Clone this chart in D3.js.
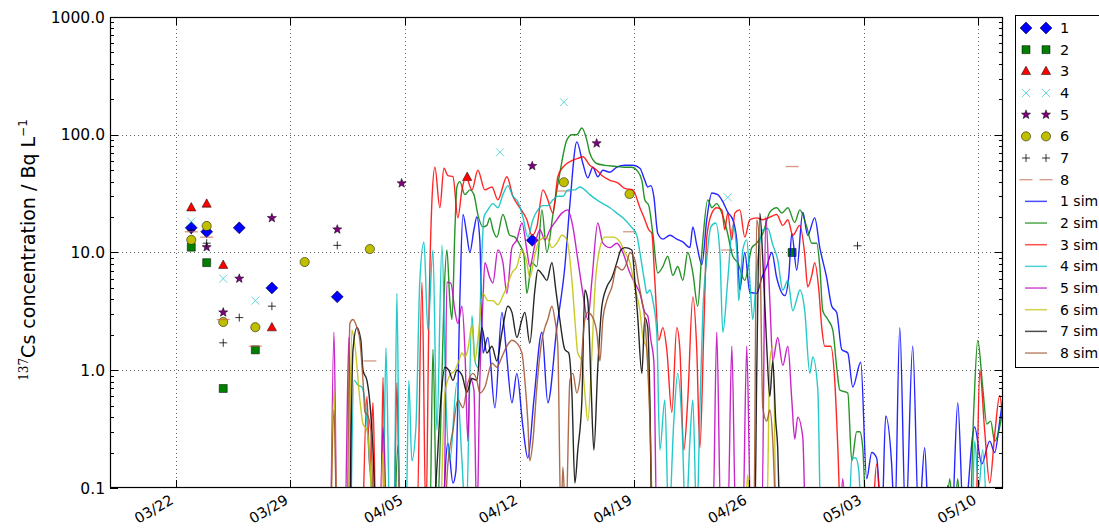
<!DOCTYPE html>
<html><head><meta charset="utf-8">
<script src="https://cdn.jsdelivr.net/npm/d3@7"></script>
<style>
html,body{margin:0;padding:0;background:#fff;}
svg{display:block;font-family:"DejaVu Sans",sans-serif;}
</style></head><body>
<svg id="chart" width="1099" height="530"></svg>
<script>
// Time is in days after 2011-03-18 00:00 UTC; values in Bq/L.
// B marks hours where the simulated concentration falls below the plotted range.
const B = 0.05;

// Observed 137Cs concentrations at stations 1-8
const obs1 = [[4.96,16.2],[5.90,15.0],[7.89,16.2],[9.88,5.0],[13.87,4.2],[25.77,12.7]];
const obs2 = [[4.96,11.1],[5.90,8.2],[6.91,0.70],[8.87,1.49],[41.63,10.0]];
const obs3 = [[4.96,24.0],[5.90,25.8],[6.91,7.8],[9.88,2.3],[21.80,43.5]];
const obs4 = [[4.96,18.3],[6.91,6.0],[8.87,3.9],[23.80,71],[27.70,189],[37.70,29.4]];
const obs5 = [[5.90,11.1],[6.91,3.1],[7.89,6.0],[9.88,19.6],[13.87,15.7],[17.80,38.7],[25.77,54.3],[29.70,84.6]];
const obs6 = [[4.96,12.8],[5.90,16.8],[6.91,2.57],[8.87,2.32],[11.88,8.3],[15.86,10.7],[27.70,39.5],[31.71,31.4]];
const obs7 = [[4.96,15.5],[5.90,12.0],[6.91,1.71],[7.89,2.8],[9.88,3.5],[13.87,11.5],[45.62,11.4]];
const obs8 = [[4.96,15.0],[5.90,13.5],[6.91,2.7],[8.87,1.6],[15.86,1.2],[27.70,33.3],[31.71,15.0],[37.70,10.5],[41.63,53.7]];

// Simulated concentrations at stations 1-8
const sim1 = [[20.32,B],[20.62,0.24],[20.93,0.11],[21.11,0.14],[21.35,3.9],[21.54,21],[21.78,14],[21.96,10],[22.21,15.6],[22.39,20],[22.57,12.8],[22.76,1.4],[23.06,1.9],[23.49,0.48],[23.92,3.1],[24.16,1.6],[24.53,0.53],[24.83,0.94],[25.20,0.33],[25.50,0.18],[25.87,0.56],[26.36,2.1],[26.72,0.53],[27.27,2.3],[27.76,7.6],[28.07,26],[28.49,87],[28.86,57],[29.16,43],[29.47,53],[29.77,44],[30.08,50],[30.51,48],[30.93,53],[31.42,55],[31.91,55],[32.34,52],[32.64,41],[32.82,36],[33.01,37],[33.19,30],[33.43,14.5],[33.74,13],[34.17,14],[34.59,13],[34.96,12.3],[35.39,11],[35.57,16.5],[35.81,11.6],[36.12,7.9],[36.42,19],[36.73,32],[37.09,31],[37.40,27],[37.70,22],[38.01,19],[38.25,12.8],[38.44,4.8],[38.74,10],[39.05,4.6],[39.47,4.5],[39.78,6.1],[40.08,7.6],[40.39,10],[40.69,6.1],[41.18,4.3],[41.43,6.4],[41.61,14.5],[41.91,7.1],[42.28,22],[42.58,14],[43.01,19.7],[43.32,11],[43.74,6.1],[44.05,3.5],[44.35,3.1],[44.66,1.5],[45.03,1.4],[45.33,0.72],[45.82,1.17],[46.18,0.12],[46.49,0.2],[46.79,0.18],[47.10,B],[47.34,0.41],[47.71,0.155],[47.89,B],[48.20,2.3],[48.56,B],[48.99,1.6],[49.36,B],[49.72,0.22],[49.97,B],[50.94,B],[51.13,0.105],[51.37,B],[51.74,0.53],[52.10,B],[52.77,0.33],[53.20,0.16],[53.69,0.25],[53.99,0.2],[54.30,0.37],[54.48,0.56]];
const sim2 = [[17.39,B],[17.57,0.23],[17.75,B],[19.52,B],[19.71,1.5],[19.95,B],[20.19,0.37],[20.38,3.9],[20.56,10.5],[20.74,3.9],[20.87,2.7],[21.05,15.6],[21.17,36],[21.35,40],[21.66,31],[21.96,34],[22.21,31],[22.45,21],[22.76,16.5],[23.0,17],[23.18,19.7],[23.37,15.6],[23.61,13.5],[23.98,21],[24.40,14],[24.71,13.5],[25.01,11.6],[25.26,9.6],[25.44,4.5],[25.75,8.2],[26.05,7.6],[26.36,23],[26.66,10],[27.03,21],[27.45,47],[27.88,90],[28.19,100],[28.49,100],[28.80,114],[29.10,90],[29.28,70],[29.71,57],[30.20,55],[30.81,54],[31.42,53],[31.85,53],[32.15,50],[32.46,41],[32.64,28],[32.88,25],[33.13,14.5],[33.43,6.7],[33.74,7.6],[34.04,9.3],[34.35,6.4],[34.65,7.6],[34.96,5.8],[35.26,10],[35.57,6.7],[35.87,3.5],[36.12,10],[36.48,28],[36.73,24],[37.03,26],[37.34,21.6],[37.64,15.6],[38.01,9.3],[38.31,8.2],[38.74,5.8],[39.17,11],[39.47,12],[39.84,14.5],[40.27,22],[40.69,24],[41.0,21.6],[41.37,24],[41.79,18],[42.10,23],[42.52,16.5],[42.83,12],[43.13,12],[43.32,7.6],[43.50,3.2],[43.81,2.7],[44.11,2.2],[44.35,1.06],[44.54,0.68],[45.03,0.64],[45.27,0.17],[45.57,0.3],[45.76,0.3],[45.94,0.22],[46.18,B],[51.0,B],[51.25,0.12],[51.49,B],[51.74,0.12],[51.92,B],[52.47,B],[52.71,0.44],[52.96,1.8],[53.26,0.72],[53.51,0.35],[53.75,0.37],[53.99,0.25],[54.30,0.33],[54.48,0.46]];
const sim3 = [[15.44,B],[15.68,0.6],[15.86,0.14],[16.05,0.53],[16.23,B],[16.53,B],[16.66,0.87],[16.84,B],[17.33,B],[17.51,0.78],[17.69,B],[18.73,B],[19.04,5.6],[19.28,B],[19.46,2.7],[19.65,28],[19.83,53],[20.13,24],[20.38,52],[20.62,45],[20.93,44],[21.23,19.7],[21.48,34],[21.72,44],[22.09,34],[22.45,50],[22.88,34],[23.31,36],[23.67,28],[24.22,44],[24.59,30],[25.01,24],[25.44,19],[25.75,14],[26.05,16.5],[26.42,34],[26.72,28],[27.03,21.6],[27.33,44],[27.64,53],[27.88,57],[28.25,61],[28.55,63],[28.86,65],[29.28,55],[29.71,50],[30.02,45],[30.51,41],[30.99,39],[31.42,35],[31.91,34],[32.34,24],[32.64,19],[32.88,15.6],[33.07,14.5],[33.25,5.8],[33.49,1.8],[33.74,2.3],[33.98,1.5],[34.29,0.44],[34.59,2.3],[34.78,1.5],[35.02,0.21],[35.26,0.56],[35.57,4.2],[35.81,1.5],[36.0,0.22],[36.24,2.2],[36.42,13.5],[36.73,21.6],[37.03,24],[37.34,23],[37.52,15.6],[37.70,21.6],[37.95,12.8],[38.13,21.6],[38.44,23],[38.74,13.5],[39.05,19],[39.47,19.7],[39.84,19],[40.27,20],[40.69,21],[41.06,17],[41.37,19],[41.67,14],[42.10,17],[42.40,9.6],[42.58,5.1],[42.83,6.4],[43.01,8.2],[43.26,4.8],[43.44,2.3],[43.62,1.6],[43.99,1.6],[44.23,0.82],[44.42,0.22],[44.60,B],[46.49,B],[46.79,0.16],[47.10,B],[52.83,B],[53.08,1.0],[53.38,0.31],[53.69,0.11],[53.99,0.28],[54.30,0.61],[54.48,0.37]];
const sim4 = [[14.70,B],[14.89,0.82],[15.13,0.75],[15.37,0.72],[15.62,0.46],[15.86,0.15],[16.17,B],[16.66,B],[16.84,1.55],[17.08,B],[17.33,B],[17.51,4.5],[17.69,B],[18.06,B],[18.24,0.82],[18.42,0.17],[18.67,0.33],[18.91,5.8],[19.16,12.3],[19.40,2.2],[19.71,10.5],[19.95,0.31],[20.26,11.6],[20.50,0.56],[20.74,0.17],[21.17,0.78],[21.48,0.17],[21.72,B],[22.09,2.9],[22.27,1.2],[22.45,1.06],[22.70,10],[22.82,20],[23.06,23],[23.37,26],[23.67,24],[23.98,31],[24.28,37],[24.59,30],[24.89,27],[25.20,20],[25.50,13.5],[25.81,19],[26.11,23],[26.42,25],[26.72,25],[27.03,28],[27.33,30],[27.64,30],[27.94,34],[28.37,34],[28.67,36],[28.98,34],[29.28,31],[29.71,28],[30.08,26],[30.51,24],[30.93,21.6],[31.30,19.7],[31.73,17],[32.15,14],[32.34,10],[32.64,5.5],[32.76,4.5],[32.95,4.8],[33.13,3.9],[33.37,2.1],[33.56,0.21],[33.86,0.56],[34.10,B],[34.41,0.37],[34.65,0.94],[34.90,0.37],[35.14,B],[35.39,0.25],[35.57,0.56],[35.81,B],[36.0,0.46],[36.18,3.1],[36.42,8.7],[36.67,16.5],[36.97,17.8],[37.22,10],[37.40,2.1],[37.70,5.8],[38.01,17],[38.25,10.5],[38.37,3.9],[38.62,10.5],[38.86,12.8],[39.05,5.8],[39.23,2.7],[39.47,7.1],[39.84,15.6],[40.15,16],[40.45,11.6],[40.75,8.7],[41.06,4.8],[41.37,5.8],[41.67,3.2],[41.91,4.0],[42.10,4.8],[42.40,3.2],[42.71,0.94],[42.89,1.3],[43.20,0.68],[43.38,B],[45.09,B],[45.27,0.18],[45.51,0.18],[45.70,0.14],[45.88,B],[52.59,B],[52.77,0.25],[53.02,0.1],[53.26,0.21],[53.51,B]];
const sim5 = [[13.48,B],[13.67,2.1],[13.85,B],[14.34,B],[14.58,1.9],[14.76,B],[16.47,B],[16.66,0.33],[16.90,B],[20.38,B],[20.56,5.6],[20.80,5.5],[21.05,3.2],[21.23,2.5],[21.48,3.5],[21.66,1.5],[21.84,0.25],[21.96,0.87],[22.21,0.68],[22.39,B],[22.57,0.82],[22.76,3.9],[22.88,8.2],[23.18,6.1],[23.37,5.5],[23.67,10.5],[23.98,8.2],[24.22,4.5],[24.53,11],[24.83,12.8],[25.14,17.8],[25.44,10.5],[25.62,7.6],[25.93,11.6],[26.24,15.6],[26.54,12.8],[26.85,15.6],[27.15,18],[27.58,21.6],[27.94,23],[28.25,16.5],[28.55,8.7],[28.86,4.5],[29.16,2.7],[29.41,5.8],[29.77,17.8],[30.08,12],[30.51,11],[30.93,12],[31.30,10],[31.73,6.7],[32.03,5.5],[32.34,4.5],[32.64,3.1],[32.82,2.9],[33.01,1.8],[33.19,1.2],[33.37,B],[36.79,B],[37.03,2.1],[37.28,B],[37.70,B],[37.95,1.6],[38.19,B],[38.62,B],[38.86,1.6],[39.11,B],[39.78,B],[40.02,20],[40.27,3.9],[40.45,1.2],[40.75,1.9],[41.06,1.1],[41.37,1.6],[41.61,0.56],[41.79,0.26],[41.97,0.4],[42.28,0.27],[42.46,B],[44.54,B],[44.72,0.12],[44.90,B]];
const sim6 = [[13.48,B],[13.67,0.68],[13.85,B],[14.52,B],[14.76,2.2],[14.95,1.6],[15.25,0.56],[15.44,0.35],[15.68,0.31],[15.86,0.17],[16.05,B],[16.47,B],[16.66,0.2],[16.84,B],[20.13,B],[20.44,0.64],[20.74,0.91],[21.05,1.0],[21.29,1.2],[21.48,1.4],[21.66,1.3],[21.84,1.5],[22.09,2.4],[22.27,1.2],[22.45,1.8],[22.76,4.5],[23.06,3.9],[23.37,3.9],[23.67,3.6],[23.98,4.3],[24.22,5.1],[24.53,6.7],[24.83,7.6],[25.14,10.5],[25.44,8.2],[25.62,6.1],[25.93,9.6],[26.24,12.8],[26.66,13.5],[26.97,11],[27.27,12],[27.58,14],[27.88,12.8],[28.19,5.8],[28.37,2.7],[28.55,1.4],[28.80,1.2],[28.98,0.64],[29.16,0.37],[29.41,1.4],[29.59,4.8],[29.90,11],[30.20,13.5],[30.69,13.5],[31.12,12.3],[31.42,10],[31.73,8.2],[32.03,5.1],[32.34,3.2],[32.52,1.9],[32.76,1.5],[32.95,0.44],[33.13,B],[38.74,B],[38.92,0.13],[39.11,B],[40.08,B],[40.27,1.2],[40.45,1.6],[40.63,B]];
const sim7 = [[14.64,B],[14.83,1.5],[15.07,2.3],[15.31,1.8],[15.44,1.0],[15.68,0.82],[15.86,0.53],[16.05,0.21],[16.23,B],[19.71,B],[19.95,0.15],[20.19,0.56],[20.44,1.06],[20.68,1.0],[20.93,0.82],[21.17,1.0],[21.48,0.91],[21.78,0.65],[22.09,0.85],[22.39,0.82],[22.70,2.3],[23.0,1.4],[23.31,1.6],[23.61,1.2],[23.92,2.1],[24.28,3.5],[24.53,3.1],[24.83,1.9],[25.14,2.7],[25.32,3.1],[25.62,1.7],[25.93,4.8],[26.11,7.1],[26.42,6.4],[26.66,5.8],[26.97,8.2],[27.21,4.8],[27.45,2.7],[27.76,1.5],[28.0,1.4],[28.19,0.64],[28.37,0.11],[28.55,0.21],[28.80,0.56],[28.98,4.8],[29.16,3.9],[29.35,0.82],[29.53,0.21],[29.77,1.06],[30.02,3.5],[30.32,5.1],[30.63,6.1],[30.93,8.2],[31.18,10.5],[31.42,11],[31.85,10.5],[32.03,5.8],[32.21,2.8],[32.46,0.94],[32.64,2.8],[32.82,2.3],[32.95,0.56],[33.07,B],[39.35,B],[39.47,0.94],[39.66,21.6],[39.84,8.7],[40.08,1.6],[40.27,0.6],[40.45,1.2],[40.63,0.37],[40.75,0.22],[40.88,B]];
const sim8 = [[13.48,B],[13.67,0.46],[13.85,B],[14.46,B],[14.64,2.5],[14.83,2.7],[15.07,2.3],[15.25,1.8],[15.44,0.82],[15.56,0.44],[15.74,0.41],[15.92,0.31],[16.11,B],[20.38,B],[20.62,0.16],[20.93,0.31],[21.23,0.56],[21.54,0.48],[21.84,0.78],[22.15,0.94],[22.39,0.82],[22.57,0.64],[22.88,0.72],[23.31,1.15],[23.61,1.06],[23.92,1.3],[24.22,1.6],[24.53,1.8],[24.83,1.7],[25.14,1.4],[25.32,0.82],[25.50,0.37],[25.62,0.17],[25.81,0.25],[26.05,0.72],[26.36,1.8],[26.54,2.3],[26.72,2.7],[26.97,3.5],[27.15,2.7],[27.33,1.6],[27.52,B],[27.64,0.15],[27.82,B],[28.07,0.82],[28.25,0.94],[28.49,0.64],[28.67,0.82],[28.98,2.7],[29.16,3.1],[29.41,2.9],[29.71,2.1],[29.90,1.2],[30.08,2.7],[30.32,3.9],[30.63,5.1],[30.93,7.6],[31.24,7.1],[31.54,8.2],[31.73,10],[32.03,8.7],[32.21,6.1],[32.46,3.9],[32.64,2.7],[32.95,0.37],[33.13,B],[39.29,B],[39.47,19],[39.66,10.5],[39.84,0.48],[40.08,0.37],[40.27,0.46],[40.45,0.25],[40.63,B]];

const xTickLabels = ["03/22","03/29","04/05","04/12","04/19","04/26","05/03","05/10"];
const yTickValues = [0.1, 1, 10, 100, 1000];
const yTickLabels = ["0.1","1.0","10.0","100.0","1000.0"];
const obsNames = ["1","2","3","4","5","6","7","8"];
const simNames = ["1 sim","2 sim","3 sim","4 sim","5 sim","6 sim","7 sim","8 sim"];

const obsSeries = [obs1, obs2, obs3, obs4, obs5, obs6, obs7, obs8];
const simSeries = [sim1, sim2, sim3, sim4, sim5, sim6, sim7, sim8];
const simColors = ["#0000ff","#008000","#ff0000","#00bfbf","#bf00bf","#bfbf00","#000000","#a0522d"];

const svg = d3.select("#chart");
const L = 110, R = 1003, T = 17, Bt = 488;

const t0 = Date.UTC(2011, 2, 18);
const toDate = t => new Date(t0 + t * 864e5);
const x = d3.scaleUtc().domain([toDate(0), toDate(54.5)]).range([L, R]);
const y = d3.scaleLog().domain([0.1, 1000]).range([Bt, T]);

const tickDates = xTickLabels.map(s => {
  const [m, d] = s.split("/").map(Number);
  return new Date(Date.UTC(2011, m - 1, d));
});

svg.append("defs").append("clipPath").attr("id", "plotclip")
  .append("rect").attr("x", L).attr("y", T).attr("width", R - L).attr("height", Bt - T);

// grid
const grid = svg.append("g").attr("stroke", "#000").attr("stroke-width", 0.8)
  .attr("stroke-dasharray", "1,3").attr("opacity", 0.75);
tickDates.forEach(d => {
  grid.append("line").attr("x1", Math.round(x(d)) + 0.5).attr("x2", Math.round(x(d)) + 0.5)
    .attr("y1", T).attr("y2", Bt);
});
yTickValues.slice(1, -1).forEach(v => {
  grid.append("line").attr("x1", L).attr("x2", R)
    .attr("y1", Math.round(y(v)) + 0.5).attr("y2", Math.round(y(v)) + 0.5);
});

// marker shapes
function markerPath(kind) {
  switch (kind) {
    case 0: return "M0,-6L6,0L0,6L-6,0Z";               // diamond
    case 1: return "M-4,-4H4V4H-4Z";                     // square
    case 2: return "M0,-5.2L4.6,3.2L-4.6,3.2Z";          // triangle
    case 3: return "M-4,-4L4,4M-4,4L4,-4";               // x
    case 4: {                                            // star
      const pts = [];
      for (let i = 0; i < 10; i++) {
        const r = i % 2 ? 2.0 : 4.8, a = -Math.PI / 2 + i * Math.PI / 5;
        pts.push([r * Math.cos(a), r * Math.sin(a)]);
      }
      return "M" + pts.map(p => p.join(",")).join("L") + "Z";
    }
    case 5: return d3.symbol(d3.symbolCircle, Math.PI * 4.6 * 4.6)();
    case 6: return "M-4,0H4M0,-4V4";                     // plus
    case 7: return "M-6.5,0H6.5";                        // dash
  }
}
const markerStyle = [
  {fill: "#0000ff", stroke: "#000", sw: 0.5},
  {fill: "#007f00", stroke: "#000", sw: 0.5},
  {fill: "#ff0000", stroke: "#000", sw: 0.5},
  {fill: "none", stroke: "#00bfbf", sw: 1, op: 0.6},
  {fill: "#800080", stroke: "#000", sw: 0.5},
  {fill: "#bfbf00", stroke: "#000", sw: 0.5},
  {fill: "none", stroke: "#000", sw: 0.8},
  {fill: "none", stroke: "#c0603f", sw: 1.3, op: 0.65}
];
function drawMarker(g, kind, px, py) {
  const s = markerStyle[kind];
  g.append("path").attr("d", markerPath(kind))
    .attr("transform", `translate(${px},${py})`)
    .attr("fill", s.fill).attr("stroke", s.stroke).attr("stroke-width", s.sw)
    .attr("opacity", s.op || 1);
}

const plot = svg.append("g").attr("clip-path", "url(#plotclip)");

// observations
const obsG = plot.append("g");
obsSeries.forEach((ser, k) => {
  ser.forEach(d => drawMarker(obsG, k, x(toDate(d[0])), y(d[1])));
});

// simulations
const line = d3.line().x(d => x(toDate(d[0]))).y(d => y(d[1])).curve(d3.curveMonotoneX);
simSeries.forEach((ser, k) => {
  plot.append("path").datum(ser).attr("d", line)
    .attr("fill", "none").attr("stroke", simColors[k]).attr("stroke-width", 1.4)
    .attr("stroke-opacity", 0.85).attr("stroke-linejoin", "round");
});

// frame and ticks
const axes = svg.append("g").attr("stroke", "#000");
axes.append("rect").attr("x", L + 0.5).attr("y", T + 0.5).attr("width", R - L - 1).attr("height", Bt - T - 1)
  .attr("fill", "none").attr("stroke-width", 1.2);
tickDates.forEach(d => {
  const px = Math.round(x(d)) + 0.5;
  axes.append("line").attr("x1", px).attr("x2", px).attr("y1", Bt).attr("y2", Bt - 8);
  axes.append("line").attr("x1", px).attr("x2", px).attr("y1", T).attr("y2", T + 8);
});
yTickValues.forEach(v => {
  const py = Math.round(y(v)) + 0.5;
  axes.append("line").attr("x1", L).attr("x2", L + 8).attr("y1", py).attr("y2", py);
  axes.append("line").attr("x1", R).attr("x2", R - 8).attr("y1", py).attr("y2", py);
});
yTickValues.slice(0, -1).forEach(v => {
  for (let k = 2; k <= 9; k++) {
    const py = Math.round(y(v * k)) + 0.5;
    axes.append("line").attr("x1", L).attr("x2", L + 4).attr("y1", py).attr("y2", py);
    axes.append("line").attr("x1", R).attr("x2", R - 4).attr("y1", py).attr("y2", py);
  }
});

// tick labels
const lab = svg.append("g").attr("fill", "#000");
yTickValues.forEach((v, i) => {
  lab.append("text").attr("x", 105).attr("y", y(v) + 5.5).attr("text-anchor", "end")
    .attr("font-size", 15.5).text(yTickLabels[i]);
});
tickDates.forEach((d, i) => {
  const px = x(d);
  lab.append("text").attr("transform", `translate(${px - 1},${503}) rotate(-30)`)
    .attr("text-anchor", "end").attr("font-size", 14.5).text(xTickLabels[i]);
});

// y-axis title
const yt = svg.append("text").attr("transform", "translate(35,250) rotate(-90)")
  .attr("text-anchor", "middle").attr("font-size", 19);
yt.append("tspan").attr("font-family", "DejaVu Serif").attr("font-size", 12).attr("dy", -7).text("137");
yt.append("tspan").attr("dy", 7).text("Cs concentration / Bq L");
yt.append("tspan").attr("font-size", 12).attr("dy", -8).text("\u22121");

// legend
const lg = svg.append("g");
lg.append("rect").attr("x", 1015.5).attr("y", 15.5).attr("width", 140).attr("height", 352)
  .attr("fill", "#fff").attr("stroke", "#000").attr("stroke-width", 1);
const rowY = i => 28 + i * 21.67;
obsNames.forEach((n, i) => {
  drawMarker(lg, i, 1026, rowY(i));
  drawMarker(lg, i, 1046, rowY(i));
  lg.append("text").attr("x", 1060).attr("y", rowY(i) + 5).attr("font-size", 14.5).text(n);
});
simNames.forEach((n, i) => {
  const yy = rowY(i + 8);
  lg.append("line").attr("x1", 1025).attr("x2", 1047).attr("y1", yy).attr("y2", yy)
    .attr("stroke", simColors[i]).attr("stroke-width", 1.5).attr("stroke-opacity", 0.7);
  lg.append("text").attr("x", 1060).attr("y", yy + 5).attr("font-size", 14).text(n);
});
</script>
</body></html>
